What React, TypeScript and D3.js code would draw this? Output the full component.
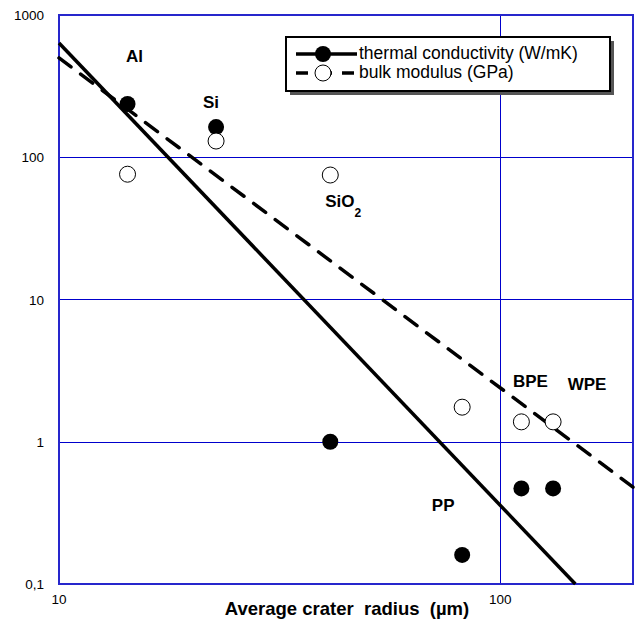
import { useRef, useEffect } from "react";
import * as d3 from "d3";

// materials and values
const materials = ["Al", "Si", "SiO2", "PP", "BPE", "WPE"];
const craterRadius = [14.3, 22.7, 41.2, 82, 111.7, 131.8];
const thermalConductivity = [237, 163, 1.0, 0.16, 0.47, 0.47];
const bulkModulus = [76, 130, 75, 1.75, 1.38, 1.38];

// power-law fits, straight on log-log, so two end points each
const thermalFit = [
  { x: 10, y: 636 },
  { x: 148, y: 0.1 },
];
const bulkFit = [
  { x: 10, y: 499 },
  { x: 200, y: 0.48 },
];

const yTicks = [0.1, 1, 10, 100, 1000];
const yTickLabels = ["0,1", "1", "10", "100", "1000"];
const xTicks = [10, 100];
const xTickLabels = ["10", "100"];
const legendLabels = ["thermal conductivity (W/mK)", "bulk modulus (GPa)"];

function App() {
  const svgRef = useRef(null);

  useEffect(() => {
    const w = 638;
    const h = 621;
    const m = { left: 59, top: 15, right: 633, bottom: 584 };

    const svg = d3.select(svgRef.current).attr("width", w).attr("height", h);
    svg.selectAll("*").remove();

    const x = d3.scaleLog().domain([10, 200]).range([m.left, m.right]);
    const y = d3.scaleLog().domain([0.1, 1000]).range([m.bottom, m.top]);

    const font = "Arial, 'Liberation Sans', sans-serif";
    const blue = "#2626cc";

    // grid
    svg.append("g")
      .selectAll("line")
      .data([1, 10, 100])
      .join("line")
      .attr("x1", m.left).attr("x2", m.right)
      .attr("y1", (d) => Math.round(y(d)) + 0.5).attr("y2", (d) => Math.round(y(d)) + 0.5)
      .attr("stroke", "#0000cc").attr("stroke-width", 1);
    svg.append("line")
      .attr("x1", Math.round(x(100)) + 0.5).attr("x2", Math.round(x(100)) + 0.5)
      .attr("y1", m.top).attr("y2", m.bottom)
      .attr("stroke", "#0000cc").attr("stroke-width", 1);

    // frame
    svg.append("rect")
      .attr("x", m.left).attr("y", m.top)
      .attr("width", m.right - m.left).attr("height", m.bottom - m.top)
      .attr("fill", "none").attr("stroke", blue).attr("stroke-width", 2);

    // tick labels
    svg.append("g")
      .selectAll("text")
      .data(yTicks)
      .join("text")
      .attr("x", 44).attr("y", (d) => y(d) + 5)
      .attr("text-anchor", "end")
      .attr("font-family", font).attr("font-size", 13.5)
      .text((d, i) => yTickLabels[i]);
    svg.append("g")
      .selectAll("text")
      .data(xTicks)
      .join("text")
      .attr("x", (d) => x(d)).attr("y", 604)
      .attr("text-anchor", "middle")
      .attr("font-family", font).attr("font-size", 13.5)
      .text((d, i) => xTickLabels[i]);

    svg.append("text")
      .attr("x", 347).attr("y", 615)
      .attr("text-anchor", "middle")
      .attr("font-family", font).attr("font-size", 18.5).attr("font-weight", "bold")
      .style("white-space", "pre")
      .text("Average crater  radius  (\u00b5m)");

    // fit lines
    const line = d3.line().x((d) => x(d.x)).y((d) => y(d.y));
    const plot = svg.append("g");
    plot.append("path")
      .attr("d", line(thermalFit))
      .attr("fill", "none").attr("stroke", "#000").attr("stroke-width", 3.5);
    plot.append("path")
      .attr("d", line(bulkFit))
      .attr("fill", "none").attr("stroke", "#000").attr("stroke-width", 3.5)
      .attr("stroke-dasharray", "15,12").attr("stroke-linecap", "round");

    // points
    plot.selectAll(".tc")
      .data(materials)
      .join("circle")
      .attr("cx", (d, i) => x(craterRadius[i]))
      .attr("cy", (d, i) => y(thermalConductivity[i]))
      .attr("r", 8).attr("fill", "#000");
    plot.selectAll(".bm")
      .data(materials)
      .join("circle")
      .attr("class", "bm")
      .attr("cx", (d, i) => x(craterRadius[i]))
      .attr("cy", (d, i) => y(bulkModulus[i]))
      .attr("r", 8).attr("fill", "#fff").attr("stroke", "#000").attr("stroke-width", 1);

    // material labels, placed relative to a point of each material
    const labelAt = {
      Al: { v: thermalConductivity, dx: 7, dy: -42, anchor: "middle" },
      Si: { v: thermalConductivity, dx: -5, dy: -19, anchor: "middle" },
      SiO2: { v: bulkModulus, dx: -5, dy: 32, anchor: "start" },
      PP: { v: thermalConductivity, dx: -19, dy: -44, anchor: "middle" },
      BPE: { v: bulkModulus, dx: 9, dy: -35, anchor: "middle" },
      WPE: { v: bulkModulus, dx: 34, dy: -32, anchor: "middle" },
    };
    materials.forEach((mat, i) => {
      const p = labelAt[mat];
      const t = svg.append("text")
        .attr("x", x(craterRadius[i]) + p.dx)
        .attr("y", y(p.v[i]) + p.dy)
        .attr("text-anchor", p.anchor)
        .attr("font-family", font).attr("font-size", 17).attr("font-weight", "bold");
      if (mat === "SiO2") {
        t.append("tspan").text("SiO");
        t.append("tspan").attr("dy", 10).attr("font-size", 12).text("2");
      } else {
        t.text(mat);
      }
    });

    // legend
    const lg = svg.append("g").attr("transform", "translate(286,37)");
    lg.append("rect")
      .attr("x", 4).attr("y", 4).attr("width", 324).attr("height", 54)
      .attr("fill", "#555");
    lg.append("rect")
      .attr("x", 0).attr("y", 0).attr("width", 324).attr("height", 54)
      .attr("fill", "#fff").attr("stroke", "#000").attr("stroke-width", 2);
    lg.append("line")
      .attr("x1", 10).attr("x2", 71).attr("y1", 17).attr("y2", 17)
      .attr("stroke", "#000").attr("stroke-width", 3.5);
    lg.append("circle").attr("cx", 37).attr("cy", 17).attr("r", 8).attr("fill", "#000");
    lg.append("line")
      .attr("x1", 10).attr("x2", 71).attr("y1", 36).attr("y2", 36)
      .attr("stroke", "#000").attr("stroke-width", 3.5)
      .attr("stroke-dasharray", "12,10,14,10");
    lg.append("circle").attr("cx", 37).attr("cy", 36).attr("r", 8)
      .attr("fill", "#fff").attr("stroke", "#000").attr("stroke-width", 1);
    lg.selectAll(".lt")
      .data(legendLabels)
      .join("text")
      .attr("x", 73).attr("y", (d, i) => 22 + i * 19)
      .attr("font-family", font).attr("font-size", 17.5)
      .text((d) => d);
  }, []);

  return (
    <div style={{ position: "absolute", left: 0, top: 0 }}>
      <svg ref={svgRef} style={{ display: "block", background: "#fff" }} />
    </div>
  );
}

export default App;
